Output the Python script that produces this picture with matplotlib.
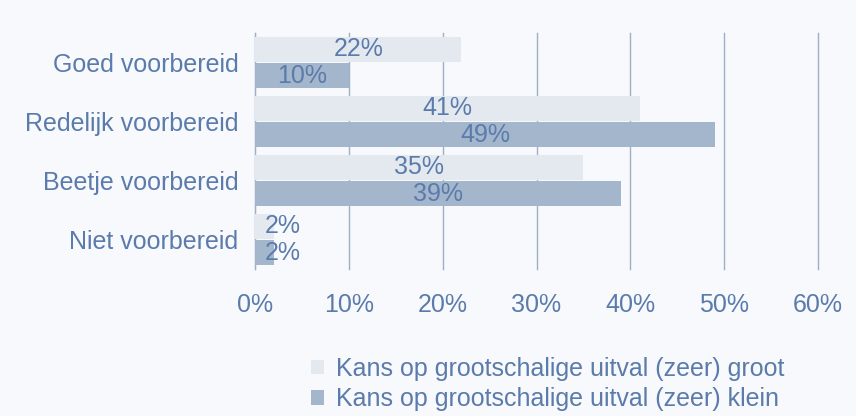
import matplotlib.pyplot as plt
import numpy as np

plt.rcParams['font.family'] = ['Liberation Sans', 'DejaVu Sans']

# Data
categories = ['Goed voorbereid', 'Redelijk voorbereid', 'Beetje voorbereid', 'Niet voorbereid']
groot = [22, 41, 35, 2]
klein = [10, 49, 39, 2]
series_names = ['Kans op grootschalige uitval (zeer) groot',
                'Kans op grootschalige uitval (zeer) klein']

bg = '#f7f9fc'
txt = '#5a7bab'
c_light = '#e4e9f0'
c_dark = '#a4b6cc'
grid_c = '#9fb0c6'
fs = 18

fig = plt.figure(figsize=(8.56, 4.16), dpi=100, facecolor=bg)
ax = fig.add_axes([255 / 856, 1 - 269 / 416, (818 - 255) / 856, (269 - 33) / 416])
ax.set_facecolor(bg)

y = np.arange(len(categories))
h = 0.43
off = h / 2 + 0.008
ax.barh(y - off, groot, height=h, color=c_light, zorder=3, label=series_names[0])
ax.barh(y + off, klein, height=h, color=c_dark, zorder=3, label=series_names[1])

# value labels
for i in range(len(categories)):
    ax.text(max(groot[i] / 2, 3), y[i] - off, f'{groot[i]}%', ha='center', va='center',
            fontsize=fs, color=txt, zorder=4)
    ax.text(max(klein[i] / 2, 3), y[i] + off, f'{klein[i]}%', ha='center', va='center',
            fontsize=fs, color=txt, zorder=4)

ax.set_xlim(0, 60)
ax.set_ylim(len(categories) - 0.5, -0.5)
ax.set_xticks(range(0, 61, 10))
ax.set_xticklabels([f'{v}%' for v in range(0, 61, 10)])
ax.set_yticks(y)
ax.set_yticklabels(categories)
ax.tick_params(axis='both', length=0, labelsize=fs, labelcolor=txt)
ax.tick_params(axis='x', pad=17)
ax.tick_params(axis='y', pad=12)
ax.grid(axis='x', color=grid_c, linewidth=1, zorder=1)
for gl in ax.get_xgridlines():
    gl.set_clip_on(False)

for s in ['top', 'right', 'bottom']:
    ax.spines[s].set_visible(False)
ax.spines['left'].set_color(grid_c)

leg = fig.legend(loc='upper left', bbox_to_anchor=(311 / 856, 1 - 357 / 416), frameon=False,
                 fontsize=fs, labelcolor=txt, handlelength=0.5, handleheight=0.5,
                 handletextpad=0.5, labelspacing=0.25, borderpad=0, borderaxespad=0)

plt.savefig('out.png', dpi=100, facecolor=bg)
